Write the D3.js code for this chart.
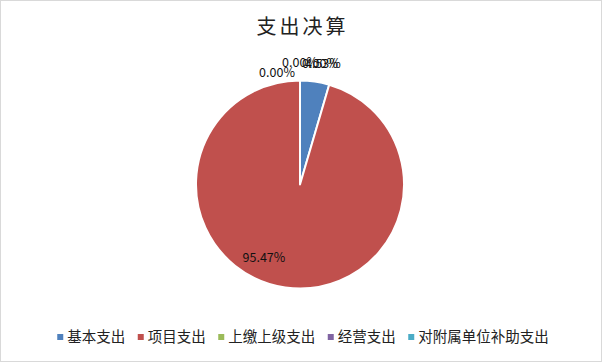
<!DOCTYPE html>
<html>
<head>
<meta charset="utf-8">
<script src="https://cdn.jsdelivr.net/npm/d3@7"></script>
<style>
  body { margin: 0; background: #fff; }
  svg text { font-family: "Noto Sans CJK SC", "Noto Sans", sans-serif; }
</style>
</head>
<body>
<div id="chart"></div>
<script>
const categories = ['基本支出', '项目支出', '上缴上级支出', '经营支出', '对附属单位补助支出'];
const shares = [4.53, 95.47, 0.00, 0.00, 0.00];
const colors = ['#4F81BD', '#C0504D', '#9BBB59', '#8064A2', '#4BACC6'];
const title = '支出决算';

// label nudges (px) to mimic the office "best fit" placement
const labelNudge = [[5, 4], [-25, -4], [-23, 14.5], [0, 4], [20, 5.5]];

const width = 602, height = 362;
const cx = 300, cy = 184.5, radius = 104;

const svg = d3.select('#chart').append('svg')
  .attr('width', width)
  .attr('height', height);

svg.append('rect')
  .attr('x', 0.5).attr('y', 0.5)
  .attr('width', width - 1).attr('height', height - 1)
  .attr('fill', '#fff')
  .attr('stroke', '#d9d9d9');

svg.append('text')
  .attr('x', width / 2 + 1.5)
  .attr('y', 34)
  .attr('text-anchor', 'middle')
  .attr('font-size', 20)
  .attr('letter-spacing', 3)
  .attr('fill', '#222')
  .text(title);

const data = categories.map((c, i) => ({ name: c, value: shares[i], color: colors[i], i }));

const pie = d3.pie().sort(null).value(d => d.value);
const arcs = pie(data);
const arc = d3.arc().innerRadius(0).outerRadius(radius);
const outerLabel = d3.arc().innerRadius(radius + 22).outerRadius(radius + 22);
const innerLabel = d3.arc().innerRadius(radius * 0.75).outerRadius(radius * 0.75);

const g = svg.append('g').attr('transform', `translate(${cx}, ${cy})`);

g.selectAll('path.slice')
  .data(arcs.filter(d => d.data.value > 0))
  .enter().append('path')
  .attr('class', 'slice')
  .attr('d', arc)
  .attr('fill', d => d.data.color)
  .attr('stroke', '#fff')
  .attr('stroke-width', 2)
  .attr('stroke-linejoin', 'round');

g.selectAll('text.label')
  .data(arcs)
  .enter().append('text')
  .attr('class', 'label')
  .attr('transform', d => {
    const p = (d.data.value > 50 ? innerLabel : outerLabel).centroid(d);
    const n = labelNudge[d.data.i];
    return `translate(${p[0] + n[0]}, ${p[1] + n[1]})`;
  })
  .attr('text-anchor', 'middle')
  .attr('dy', '0.35em')
  .attr('font-size', 12.5)
  .attr('fill', '#111')
  .text(d => d.data.value.toFixed(2) + '%');

// legend
const legend = svg.append('g').attr('class', 'legend');
const items = legend.selectAll('g.item')
  .data(data)
  .enter().append('g')
  .attr('class', 'item');

items.append('rect')
  .attr('width', 6).attr('height', 6)
  .attr('y', -3)
  .attr('fill', d => d.color);

items.append('text')
  .attr('x', 10)
  .attr('dy', '0.35em')
  .attr('font-size', 14.5)
  .attr('fill', '#222')
  .text(d => d.name);

let offset = 0;
const gap = 12.5;
items.each(function () {
  const w = 10 + d3.select(this).select('text').node().getComputedTextLength();
  d3.select(this).attr('transform', `translate(${offset}, 0)`);
  offset += w + gap;
});
const legendWidth = offset - gap;
legend.attr('transform', `translate(${(width - legendWidth) / 2 + 2}, 337)`);
</script>
</body>
</html>
